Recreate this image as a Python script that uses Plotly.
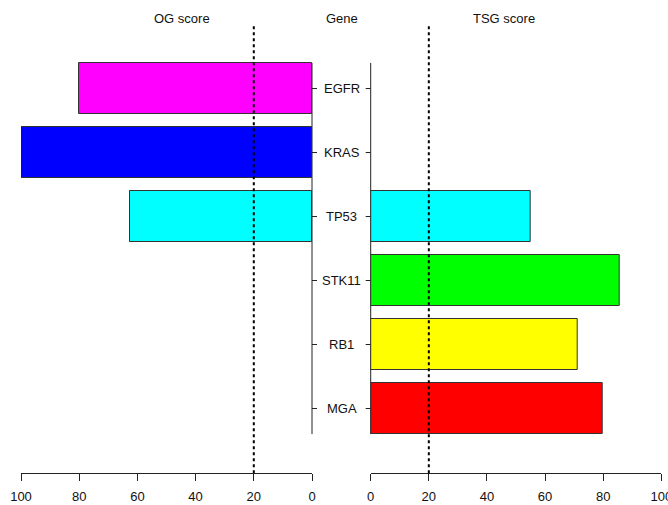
import plotly.graph_objects as go

# ---- data ----
genes = ["EGFR", "KRAS", "TP53", "STK11", "RB1", "MGA"]
og_score = [80, 100, 62.4, 0, 0, 0]
tsg_score = [0, 0, 55.1, 85.8, 71.4, 80]
gene_colors = ["#FF00FF", "#0000FF", "#00FFFF", "#00FF00", "#FFFF00", "#FF0000"]
threshold = 20
tick_vals = [0, 20, 40, 60, 80, 100]

W, H = 668, 505
FONT = "Liberation Sans, Arial, Helvetica, sans-serif"

n = len(genes)
ypos = [n - 1 - i for i in range(n)]  # EGFR at top


def px(x):
    return x / W


def py(y):
    return 1 - y / H


fig = go.Figure()

for vals, xa in ((og_score, "x"), (tsg_score, "x2")):
    idx = [i for i, v in enumerate(vals) if v > 0]
    fig.add_trace(go.Bar(
        x=[vals[i] for i in idx],
        y=[ypos[i] for i in idx],
        orientation="h",
        width=0.8,
        marker=dict(color=[gene_colors[i] for i in idx],
                    line=dict(color="#333333", width=1)),
        xaxis=xa, yaxis="y",
        showlegend=False, hoverinfo="skip",
    ))

ydom = [py(473.3), py(26)]
yrange = [-1.0125, 5.977]

axis_common = dict(
    showgrid=False, zeroline=False, showline=True, linecolor="#222", linewidth=1,
    ticks="outside", ticklen=7, tickwidth=1, tickcolor="#222",
    tickvals=tick_vals, ticktext=[str(t) for t in tick_vals],
    tickfont=dict(family=FONT, size=13, color="#111"),
    ticklabeloverflow="allow", ticklabelstandoff=4,
    anchor="y", fixedrange=True, automargin=False,
)

fig.update_layout(
    width=W, height=H,
    margin=dict(l=0, r=0, t=0, b=0, pad=0, autoexpand=False),
    paper_bgcolor="white", plot_bgcolor="white",
    bargap=0,
    xaxis=dict(domain=[px(21), px(312)], range=[100, 0], **axis_common),
    xaxis2=dict(domain=[px(370.7), px(661.3)], range=[0, 100], **axis_common),
    yaxis=dict(domain=ydom, range=yrange, visible=False, fixedrange=True),
)

# gene axis lines with small ticks
ylo, yhi = -0.4, n - 1 + 0.4
for xline, tdir in ((312, 5), (370.7, -5)):
    fig.add_shape(type="line", xref="paper", yref="y",
                  x0=px(xline), x1=px(xline), y0=ylo, y1=yhi,
                  line=dict(color="#222", width=1))
    for yp in ypos:
        fig.add_shape(type="line", xref="paper", yref="y",
                      x0=px(xline), x1=px(xline + tdir), y0=yp, y1=yp,
                      line=dict(color="#222", width=1))

# gene labels
for g, yp in zip(genes, ypos):
    fig.add_annotation(x=px(341.5), y=yp, xref="paper", yref="y", text=g,
                       showarrow=False, xanchor="center", yanchor="middle",
                       font=dict(family=FONT, size=13, color="#111"))

# threshold dotted lines
for xr in ("x", "x2"):
    fig.add_shape(type="line", xref=xr, yref="paper",
                  x0=threshold, x1=threshold, y0=ydom[0], y1=ydom[1],
                  line=dict(color="black", width=2, dash="dot"))

# column titles
for t, xc in (("OG score", 182), ("Gene", 341.5), ("TSG score", 504)):
    fig.add_annotation(x=px(xc), y=py(18), xref="paper", yref="paper", text=t,
                       showarrow=False, xanchor="center", yanchor="middle",
                       font=dict(family=FONT, size=13, color="#111"))

fig.write_html(
    "out.html",
    config={"displayModeBar": False},
    post_script="document.body.style.margin='0';document.body.style.padding='0';"
                "document.body.style.overflow='hidden';"
                "document.documentElement.style.overflow='hidden';",
)
